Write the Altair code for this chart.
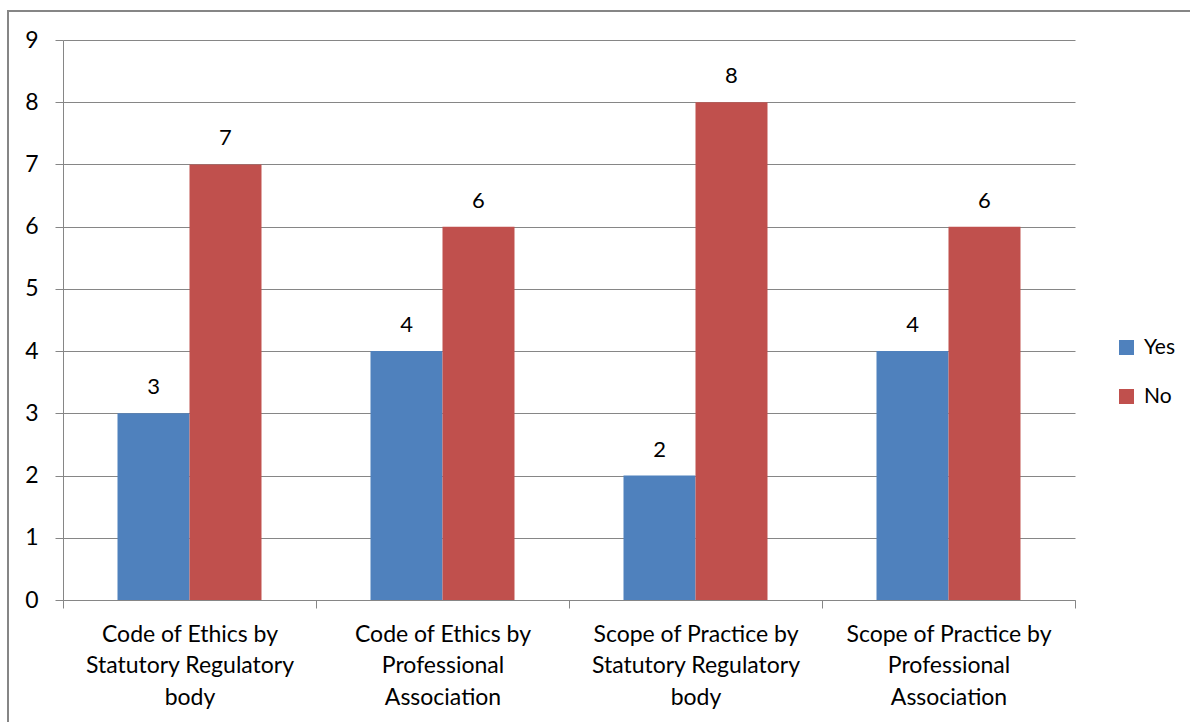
import altair as alt
import pandas as pd

categories = [
    "Code of Ethics by\nStatutory Regulatory\nbody",
    "Code of Ethics by\nProfessional\nAssociation",
    "Scope of Practice by\nStatutory Regulatory\nbody",
    "Scope of Practice by\nProfessional\nAssociation",
]
series = ["Yes", "No"]
yes_values = [3, 4, 2, 4]
no_values = [7, 6, 8, 6]
y_ticks = [0, 1, 2, 3, 4, 5, 6, 7, 8, 9]
colors = ["#4F81BD", "#C0504D"]

rows = []
for c, yv, nv in zip(categories, yes_values, no_values):
    rows.append({"category": c, "series": "Yes", "value": yv})
    rows.append({"category": c, "series": "No", "value": nv})
df = pd.DataFrame(rows)

FONT = "Lato"
GRID = "#868686"

x_enc = alt.X(
    "category:N",
    sort=categories,
    scale=alt.Scale(paddingInner=0, paddingOuter=0),
    axis=alt.Axis(
        title=None,
        labelAngle=0,
        labelExpr="split(datum.label, '\\n')",
        labelFont=FONT,
        labelFontSize=23,
        labelColor="black",
        labelLineHeight=31.5,
        labelPadding=15,
        labelBaseline="top",
        labelLimit=0,
        tickBand="extent",
        tickSize=8,
        tickColor=GRID,
        domainColor=GRID,
        grid=False,
    ),
)
xoff = alt.XOffset(
    "series:N",
    sort=series,
    scale=alt.Scale(domain=series, paddingInner=0, paddingOuter=0.757),
)
y_enc = alt.Y(
    "value:Q",
    scale=alt.Scale(domain=[0, 9], nice=False),
    axis=alt.Axis(
        title=None,
        values=y_ticks,
        format="d",
        labelFont=FONT,
        labelFontSize=23,
        labelColor="black",
        labelPadding=17,
        tickSize=8,
        tickColor=GRID,
        domainColor=GRID,
        gridColor=GRID,
        gridOpacity=1,
    ),
)
color_enc = alt.Color(
    "series:N",
    sort=series,
    scale=alt.Scale(domain=series, range=colors),
    legend=alt.Legend(
        title=None,
        orient="none",
        legendX=1053,
        legendY=297,
        symbolType="square",
        symbolSize=225,
        symbolStrokeWidth=0,
        labelFont=FONT,
        labelFontSize=21,
        labelColor="black",
        rowPadding=27,
        labelOffset=7,
    ),
)

bars = alt.Chart(df).mark_bar(stroke=None).encode(
    x=x_enc, xOffset=xoff, y=y_enc, color=color_enc
)
labels = alt.Chart(df).mark_text(
    font=FONT, fontSize=22, color="black", baseline="alphabetic", dy=-19
).encode(
    x=alt.X("category:N", sort=categories),
    xOffset=alt.XOffset("series:N", sort=series),
    y="value:Q",
    text="value:Q",
)
border = alt.Chart(df).mark_rect(
    fill=None, stroke=GRID, strokeWidth=1.5
).encode(
    x=alt.value(-55), x2=alt.value(1140), y=alt.value(-29), y2=alt.value(700)
)

chart = alt.layer(border, bars, labels).properties(
    width=1012,
    height=560,
    autosize=alt.AutoSizeParams(type="none"),
    padding={"left": 63, "top": 40, "right": 115, "bottom": 122},
).configure_view(stroke=None)

chart.save("out.html", embed_options={"renderer": "svg", "actions": False})
